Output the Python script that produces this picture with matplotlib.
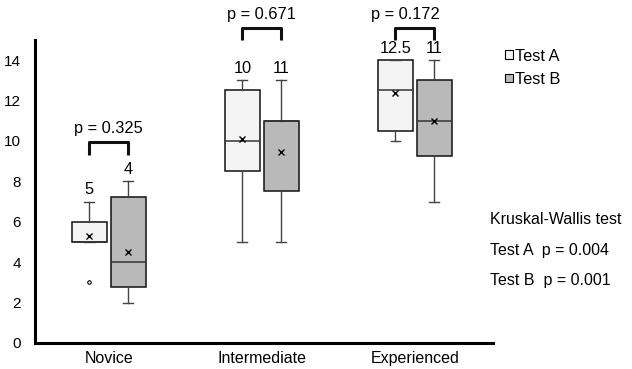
import matplotlib
matplotlib.use("Agg")
import matplotlib.pyplot as plt
from matplotlib.patches import Patch
from matplotlib.path import Path
from matplotlib.patches import PathPatch

plt.rcParams['font.family'] = ['Liberation Sans', 'DejaVu Sans']
plt.rcParams['font.size'] = 10.5

# --- data ---
groups = ["Novice", "Intermediate", "Experienced"]
series = ["Test A", "Test B"]

# Test A box stats per group
a_q1 = [5, 8.5, 10.5]
a_med = [5, 10, 12.5]
a_q3 = [6, 12.5, 14]
a_lo = [5, 5, 10]
a_hi = [7, 13, 14]
a_mean = [5.3, 10.1, 12.4]
a_fliers = [[3], [], []]

# Test B box stats per group
b_q1 = [2.75, 7.5, 9.25]
b_med = [4, 11, 11]
b_q3 = [7.25, 11, 13]
b_lo = [2, 5, 7]
b_hi = [8, 13, 14]
b_mean = [4.5, 9.45, 11.0]
b_fliers = [[], [], []]

pair_p = ["0.325", "0.671", "0.172"]
kw_p = ["0.004", "0.001"]

# --- layout ---
fill = {"Test A": "#f3f4f3", "Test B": "#b9b9b9"}
offset = 0.127
width = 0.23
bracket_y = [9.95, 15.6, 15.6]
bracket_leg = 0.62


def stats(q1, med, q3, lo, hi, mean, fl):
    return [dict(q1=q1[i], med=med[i], q3=q3[i], whislo=lo[i], whishi=hi[i],
                 mean=mean[i], fliers=fl[i]) for i in range(len(q1))]


fig = plt.figure(figsize=(6.32, 3.69), dpi=100)
ax = fig.add_axes([0.055, 0.0705, 0.725, 0.8211])

sets = {
    "Test A": stats(a_q1, a_med, a_q3, a_lo, a_hi, a_mean, a_fliers),
    "Test B": stats(b_q1, b_med, b_q3, b_lo, b_hi, b_mean, b_fliers),
}
for k, name in enumerate(series):
    pos = [i + 1 + (2 * k - 1) * offset for i in range(len(groups))]
    ax.bxp(sets[name], positions=pos, widths=width, capwidths=0.065,
           patch_artist=True, showmeans=True, manage_ticks=False,
           boxprops=dict(facecolor=fill[name], edgecolor="#111111", lw=1.1),
           medianprops=dict(color="#333333", lw=1.1),
           whiskerprops=dict(color="#444444", lw=1.0),
           capprops=dict(color="#444444", lw=1.0),
           meanprops=dict(marker="x", markeredgecolor="black", markersize=4,
                          markeredgewidth=1.0),
           flierprops=dict(marker="o", markerfacecolor="white",
                           markeredgecolor="black", markersize=2.5, mew=0.8))
    # median value above each box
    for i, st in enumerate(sets[name]):
        top = max(st["whishi"], st["q3"])
        ax.annotate(f"{st['med']:g}", (pos[i], top), xytext=(0, 3),
                    textcoords="offset points", ha="center", va="bottom",
                    fontsize=11.8, annotation_clip=False)

# brackets with p-values between Test A and Test B
for i, p in enumerate(pair_p):
    x0, x1 = i + 1 - offset, i + 1 + offset
    y = bracket_y[i]
    verts = [(x0, y - bracket_leg), (x0, y), (x1, y), (x1, y - bracket_leg)]
    path = Path(verts, [Path.MOVETO, Path.LINETO, Path.LINETO, Path.LINETO])
    ax.add_patch(PathPatch(path, fill=False, lw=2.2, edgecolor="#111111",
                           joinstyle="round", capstyle="butt", clip_on=False))
    tx = i + 1 - (0.06 if i == 2 else 0.0)
    ax.annotate(f"p = {p}", (tx, y), xytext=(0, 4), textcoords="offset points",
                ha="center", va="bottom", fontsize=11.8, annotation_clip=False)

ax.set_xlim(0.516, 3.51)
ax.set_ylim(0, 15)
ax.set_yticks(range(0, 15, 2))
ax.set_xticks(range(1, len(groups) + 1))
ax.set_xticklabels(groups)
ax.tick_params(axis="y", length=0, pad=10, labelsize=11)
ax.tick_params(axis="x", length=0, pad=6, labelsize=11.5)
for s in ("top", "right"):
    ax.spines[s].set_visible(False)
for s in ("left", "bottom"):
    ax.spines[s].set_linewidth(2.2)

handles = [Patch(facecolor=fill[n], edgecolor="black", lw=0.8) for n in series]
fig.legend(handles, series, loc="upper left", bbox_to_anchor=(0.789, 0.886),
           frameon=False, handlelength=0.45, handleheight=0.45,
           handletextpad=0.15, labelspacing=0.5, fontsize=11.8,
           borderaxespad=0)

fig.text(490 / 632, 1 - 219 / 369, "Kruskal-Wallis test", va="center",
         fontsize=11.5)
for j, n in enumerate(series):
    fig.text(490 / 632, 1 - (250 + 30 * j) / 369, f"{n}  p = {kw_p[j]}",
             va="center", fontsize=11.5)

fig.savefig("out.png", dpi=100)
